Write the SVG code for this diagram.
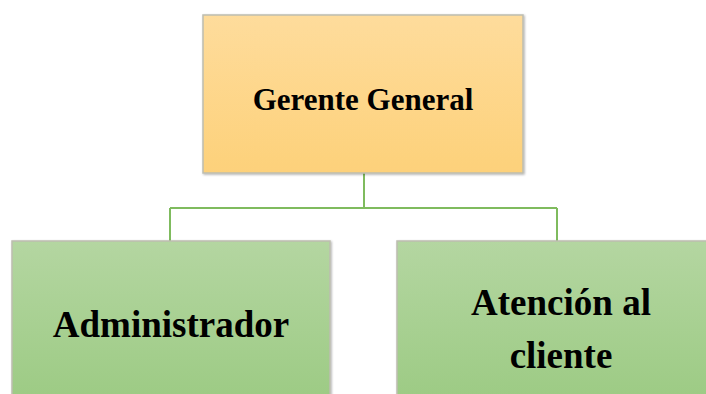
<svg xmlns="http://www.w3.org/2000/svg" width="706" height="394" viewBox="0 0 706 394">
<defs>
<linearGradient id="gOr" x1="0" y1="0" x2="0" y2="1"><stop offset="0" stop-color="#fedc9c"/><stop offset="1" stop-color="#fdd17a"/></linearGradient>
<linearGradient id="gGr" x1="0" y1="0" x2="0" y2="1"><stop offset="0" stop-color="#b4d6a1"/><stop offset="1" stop-color="#9bca82"/></linearGradient>
<filter id="sh" x="-5%" y="-5%" width="110%" height="110%"><feDropShadow dx="1" dy="1" stdDeviation="1.2" flood-color="#000" flood-opacity="0.3"/></filter>
</defs>
<style>
.box{stroke:#bdbdb0;stroke-width:1.5;filter:url(#sh)}
.lbl{font-family:"Liberation Serif","Times New Roman",serif;font-weight:bold;fill:#000;text-anchor:middle}
.con{fill:none;stroke:#7fbb5e;stroke-width:2}
</style>
<rect width="706" height="394" fill="#fff"/>
<g id="connectors">
<path class="con" d="M364,173 V208 M170,208 H557 M170,208 V241 M557,208 V241"/>
</g>
<g id="gerente">
<rect class="box" x="203" y="15" width="320" height="158" fill="url(#gOr)"/>
<text class="lbl" x="363" y="110" font-size="31">Gerente General</text>
</g>
<g id="administrador">
<rect class="box" x="12" y="241" width="318" height="170" fill="url(#gGr)"/>
<text class="lbl" x="171" y="337" font-size="37">Administrador</text>
</g>
<g id="atencion">
<rect class="box" x="397" y="241" width="330" height="170" fill="url(#gGr)"/>
<text class="lbl" x="561" y="315" font-size="37">Atención al</text>
<text class="lbl" x="561" y="368" font-size="37">cliente</text>
</g>
</svg>
